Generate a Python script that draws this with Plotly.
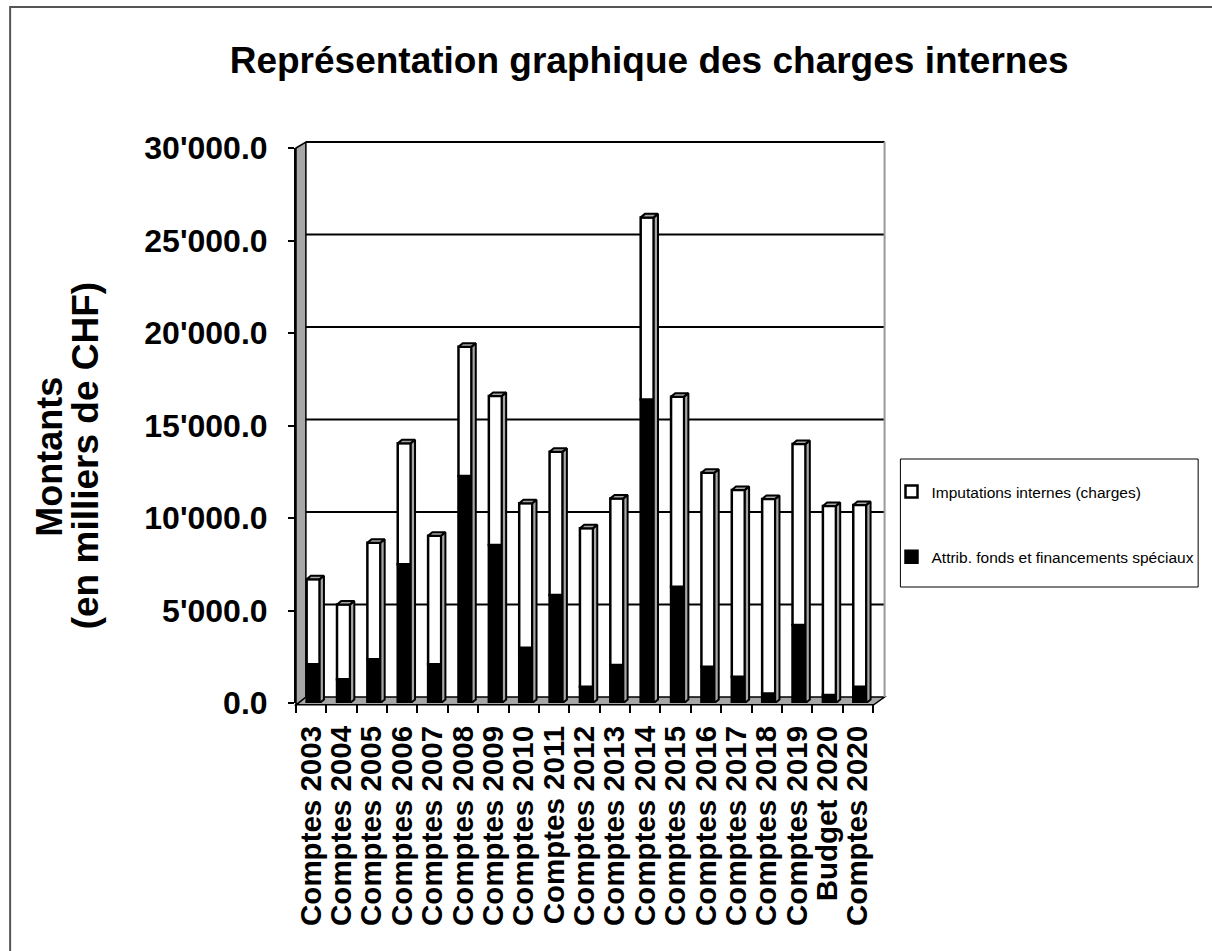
import plotly.graph_objects as go

categories = ["Comptes 2003", "Comptes 2004", "Comptes 2005", "Comptes 2006", "Comptes 2007",
              "Comptes 2008", "Comptes 2009", "Comptes 2010", "Comptes 2011", "Comptes 2012",
              "Comptes 2013", "Comptes 2014", "Comptes 2015", "Comptes 2016", "Comptes 2017",
              "Comptes 2018", "Comptes 2019", "Budget 2020", "Comptes 2020"]
attrib_fonds = [2090, 1280, 2360, 7500, 2090, 12270, 8540, 2990, 5840, 880,
                2050, 16400, 6290, 1960, 1420, 520, 4220, 430, 880]
imputations = [4600, 4050, 6300, 6540, 6950, 6990, 8060, 7810, 7740, 8560,
               9010, 9850, 10270, 10490, 10090, 10510, 9780, 10220, 9820]
ytick_values = [0, 5000, 10000, 15000, 20000, 25000, 30000]
series_names = ["Imputations internes (charges)", "Attrib. fonds et financements spéciaux"]

# ---- layout geometry (pixels) ----
W, H = 1212, 951
L, R, T, B = 296, 879.3, 148, 703
YMAX = 30000
FONT = "Liberation Sans, Arial, sans-serif"

def px_x(p):
    return (p - L) / (R - L)

def px_y(p):
    return (B - p) / (B - T)

def v_y(v):
    return v / YMAX

BAR_W = 0.43
BAR_SHIFT = 0.065
DX = 0.14      # depth in category units
DY = 190       # depth in value units
WALL_DX = px_x(306)
WALL_DY = 324

n = len(categories)
xs = [i + BAR_SHIFT for i in range(n)]
totals = [a + b for a, b in zip(attrib_fonds, imputations)]

fig = go.Figure()

# 3D side/top faces
px_, py_ = [], []
for x, t in zip(xs, totals):
    xl, xr = x - BAR_W / 2, x + BAR_W / 2
    px_ += [xr, xr + DX, xr + DX, xr, xr, None]
    py_ += [0, DY, t + DY, t, 0, None]
    px_ += [xl, xl + DX, xr + DX, xr, xl, None]
    py_ += [t, t + DY, t + DY, t, t, None]
fig.add_trace(go.Scatter(x=px_, y=py_, mode="lines", fill="toself",
                         fillcolor="#a6a6a6", line=dict(color="black", width=2),
                         showlegend=False, hoverinfo="skip"))

fig.add_trace(go.Bar(x=xs, y=attrib_fonds, base=[0] * n, width=BAR_W,
                     name=series_names[1], marker=dict(color="black", line=dict(color="black", width=2.5)),
                     legendgroup="b", legendrank=2))
fig.add_trace(go.Bar(x=xs, y=imputations, base=attrib_fonds, width=BAR_W,
                     name=series_names[0], marker=dict(color="white", line=dict(color="black", width=2.5)),
                     legendgroup="a", legendrank=1))

shapes = []
# outer chart border
shapes.append(dict(type="rect", xref="paper", yref="paper",
                   x0=px_x(7), x1=px_x(1240), y0=px_y(7), y1=px_y(980),
                   line=dict(color="#555555", width=2), layer="below"))
# floor
shapes.append(dict(type="path", xref="paper", yref="paper", layer="below",
                   path=f"M 0,{v_y(-100)} L {px_x(880)},{v_y(-100)} L {px_x(891)},{v_y(WALL_DY)} "
                        f"L {WALL_DX},{v_y(WALL_DY)} Z",
                   fillcolor="#a6a6a6", line=dict(color="black", width=1.5)))
# left wall
shapes.append(dict(type="path", xref="paper", yref="paper", layer="below",
                   path=f"M 0,{v_y(-100)} L 0,{v_y(YMAX)} L {WALL_DX},{v_y(YMAX + WALL_DY)} "
                        f"L {WALL_DX},{v_y(WALL_DY)} Z",
                   fillcolor="#a6a6a6", line=dict(color="black", width=1.5)))
# back-wall gridlines
for v in ytick_values[1:]:
    shapes.append(dict(type="line", xref="paper", yref="paper", layer="below",
                       x0=WALL_DX, x1=px_x(891), y0=v_y(v + WALL_DY), y1=v_y(v + WALL_DY),
                       line=dict(color="black", width=2)))
# right edge of back wall
shapes.append(dict(type="line", xref="paper", yref="paper", layer="below",
                   x0=px_x(891), x1=px_x(891), y0=v_y(WALL_DY), y1=v_y(YMAX + WALL_DY),
                   line=dict(color="#999999", width=2)))
# legend box
shapes.append(dict(type="rect", xref="paper", yref="paper",
                   x0=px_x(907), x1=px_x(1208), y0=px_y(459), y1=px_y(587),
                   line=dict(color="black", width=1), fillcolor="white", layer="below"))

annotations = [
    dict(text="Montants", xref="paper", yref="paper", x=px_x(46), y=px_y(457),
         showarrow=False, textangle=-90, xanchor="center", yanchor="middle",
         font=dict(family=FONT, size=36, color="black", weight="bold")),
    dict(text="(en milliers de CHF)", xref="paper", yref="paper", x=px_x(83), y=px_y(456),
         showarrow=False, textangle=-90, xanchor="center", yanchor="middle",
         font=dict(family=FONT, size=37, color="black", weight="bold")),
]

fig.update_layout(
    width=W, height=H,
    margin=dict(l=L, r=W - R, t=T, b=H - B, pad=0),
    paper_bgcolor="white", plot_bgcolor="rgba(0,0,0,0)",
    barmode="overlay",
    title=dict(text="Représentation graphique des charges internes",
               x=px_x(653), xref="paper", xanchor="center",
               y=1 - 60 / H, yref="container", yanchor="middle",
               font=dict(family=FONT, size=37, color="black", weight="bold")),
    xaxis=dict(range=[-0.5, n - 0.5], tickvals=list(range(n)), ticktext=categories,
               tickangle=-90, ticks="", showgrid=False, zeroline=False, showline=False,
               tickfont=dict(family=FONT, size=29.5, color="black", weight="bold"),
               ticklabelstandoff=16,
               minor=dict(tickvals=[i - 0.5 for i in range(n + 1)], ticks="outside",
                          ticklen=9, tickcolor="black", tickwidth=1.5, showgrid=False)),
    yaxis=dict(range=[0, YMAX], tickvals=ytick_values,
               ticktext=[f"{v:,.1f}".replace(",", "'") for v in ytick_values],
               ticks="outside", ticklen=6, tickcolor="black", tickwidth=1.5,
               showgrid=False, zeroline=False, showline=True, linecolor="black", linewidth=2,
               tickfont=dict(family=FONT, size=32, color="black", weight="bold"),
               ticklabelstandoff=14),
    legend=dict(x=px_x(898), y=px_y(475), xanchor="left", yanchor="top",
                bgcolor="rgba(0,0,0,0)", borderwidth=0, traceorder="grouped",
                tracegroupgap=42, itemclick=False,
                font=dict(family=FONT, size=15.5, color="black")),
    shapes=shapes, annotations=annotations, showlegend=True,
)

fig.write_html("out.html", config={"displayModeBar": False},
               post_script="document.body.style.margin='0';document.body.style.overflow='hidden';")
